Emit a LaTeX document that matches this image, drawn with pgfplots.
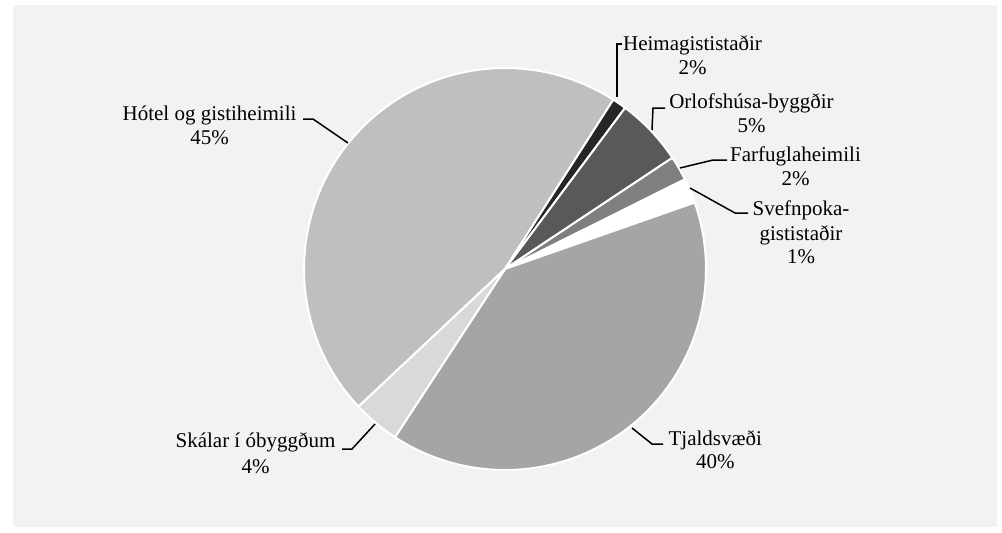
\documentclass[border=0pt]{standalone}
\usepackage{fontspec}
\setmainfont{Liberation Serif}
\usepackage{pgfplots}
\pgfplotsset{compat=1.18}
\definecolor{panel}{HTML}{F2F2F2}
\definecolor{cHotel}{HTML}{BFBFBF}
\definecolor{cHeima}{HTML}{262626}
\definecolor{cOrlof}{HTML}{595959}
\definecolor{cFarf}{HTML}{7F7F7F}
\definecolor{cSvefn}{HTML}{FFFFFF}
\definecolor{cTjald}{HTML}{A5A5A5}
\definecolor{cSkal}{HTML}{D9D9D9}
\begin{document}
\begin{tikzpicture}
\begin{axis}[x=0.5pt,y=0.5pt,xmin=-505,xmax=497,ymin=-263,ymax=269,
  hide axis,scale only axis,clip=false]
\fill[white] (axis cs:-505,-263) rectangle (axis cs:497,269);
\fill[panel] (axis cs:-492,-258) rectangle (axis cs:492,264);
% slices: polar angle domain (degrees, ccw from +x), radius 201
% Hotel og gistiheimili 45%
\addplot[fill=cHotel,draw=white,line width=1pt,data cs=polar,domain=57.4:223.2,samples=90] {201} -- (axis cs:0,0) -- cycle;
% Heimagististadir 2%
\addplot[fill=cHeima,draw=white,line width=1pt,data cs=polar,domain=53.3:57.4,samples=10] {201} -- (axis cs:0,0) -- cycle;
% Orlofshusa-byggdir 5%
\addplot[fill=cOrlof,draw=white,line width=1pt,data cs=polar,domain=33.6:53.3,samples=20] {201} -- (axis cs:0,0) -- cycle;
% Farfuglaheimili 2%
\addplot[fill=cFarf,draw=white,line width=1pt,data cs=polar,domain=26.5:33.6,samples=10] {201} -- (axis cs:0,0) -- cycle;
% Svefnpoka-gististadir 1%
\addplot[fill=cSvefn,draw=white,line width=1pt,data cs=polar,domain=19.3:26.5,samples=10] {201} -- (axis cs:0,0) -- cycle;
% Tjaldsvaedi 40%
\addplot[fill=cTjald,draw=white,line width=1pt,data cs=polar,domain=-123.2:19.3,samples=90] {201} -- (axis cs:0,0) -- cycle;
% Skalar i obyggdum 4%
\addplot[fill=cSkal,draw=white,line width=1pt,data cs=polar,domain=-136.8:-123.2,samples=15] {201} -- (axis cs:0,0) -- cycle;
% leader lines
\addplot[black,line width=0.75pt,no marks] coordinates {(112,172) (112,225) (117,225)};
\addplot[black,line width=0.75pt,no marks] coordinates {(147,139) (148,161) (160,161)};
\addplot[black,line width=0.75pt,no marks] coordinates {(175,101) (208,109) (222,109)};
\addplot[black,line width=0.75pt,no marks] coordinates {(185,81) (230,56) (243,56)};
\addplot[black,line width=0.75pt,no marks] coordinates {(-202,150) (-192,150) (-157,126)};
\addplot[black,line width=0.75pt,no marks] coordinates {(-163,-180) (-153,-180) (-130,-155)};
\addplot[black,line width=0.75pt,no marks] coordinates {(127,-159) (147,-175) (158,-175)};
% labels
\tikzset{lbl/.style={anchor=base,inner sep=0pt,font=\fontsize{10.5}{12}\selectfont}}
\node[lbl] at (axis cs:187.5,219) {Heimagististaðir};
\node[lbl] at (axis cs:187.5,195) {2\%};
\node[lbl] at (axis cs:246.5,161) {Orlofshúsa-byggðir};
\node[lbl] at (axis cs:246.5,137) {5\%};
\node[lbl] at (axis cs:290.5,108) {Farfuglaheimili};
\node[lbl] at (axis cs:290.5,84) {2\%};
\node[lbl] at (axis cs:296,54) {Svefnpoka-};
\node[lbl] at (axis cs:296,29) {gististaðir};
\node[lbl] at (axis cs:296,6) {1\%};
\node[lbl] at (axis cs:-295.5,149) {Hótel og gistiheimili};
\node[lbl] at (axis cs:-295.5,125) {45\%};
\node[lbl] at (axis cs:-249.5,-178) {Skálar í óbyggðum};
\node[lbl] at (axis cs:-249.5,-204) {4\%};
\node[lbl] at (axis cs:210.3,-176) {Tjaldsvæði};
\node[lbl] at (axis cs:210.3,-199.5) {40\%};
\end{axis}
\end{tikzpicture}
\end{document}
